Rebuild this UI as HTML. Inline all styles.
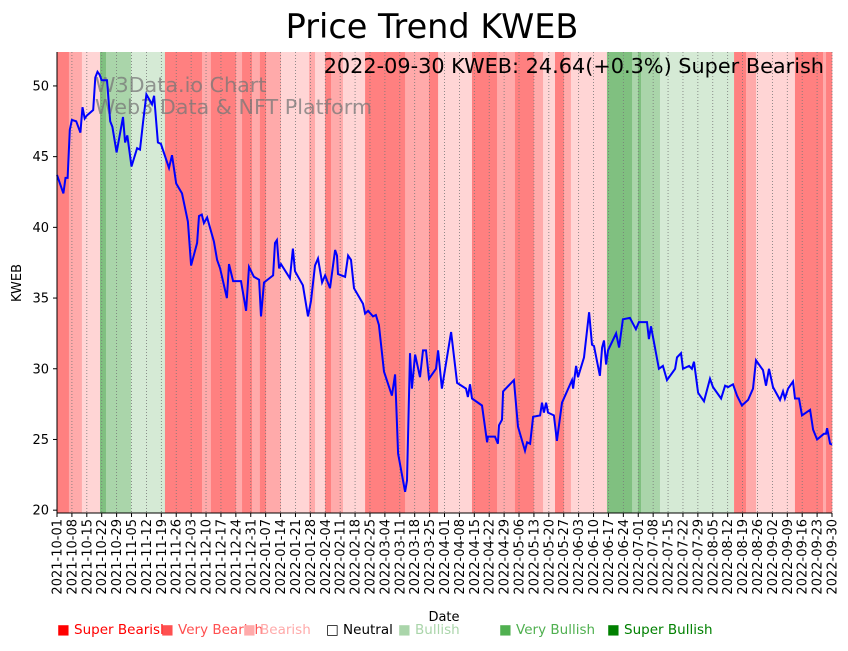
<!DOCTYPE html>
<html><head><meta charset="utf-8"><style>
body{margin:0;background:#fff;width:848px;height:646px;overflow:hidden;font-family:"Liberation Sans","DejaVu Sans",sans-serif}
svg text{font-family:"DejaVu Sans","Liberation Sans",sans-serif}
</style></head><body>
<svg id="chart" width="848" height="646" xmlns="http://www.w3.org/2000/svg">
<text x="432" y="38" font-size="33.5" text-anchor="middle">Price Trend KWEB</text>
<g id="bands"></g>
<g id="grid"></g>
<text x="95" y="92" font-size="20.7" fill="#777" fill-opacity="0.75">W3Data.io Chart</text>
<text x="95" y="114" font-size="20.7" fill="#777" fill-opacity="0.75">Web3 Data &amp; NFT Platform</text>
<path id="line" fill="none" stroke="#0000ff" stroke-width="2"/>
<text x="824" y="73" font-size="20.8" text-anchor="end">2022-09-30 KWEB: 24.64(+0.3%) Super Bearish</text>
<g id="axes"></g>
<text x="444" y="621" font-size="13" text-anchor="middle">Date</text>
<text transform="translate(21,283) rotate(-90)" font-size="13" text-anchor="middle">KWEB</text>
<g font-size="13.5">
<text x="57" y="634" fill="#ff0000">■ Super Bearish</text>
<text x="161" y="634" fill="#ff5050">■ Very Bearish</text>
<text x="243" y="634" fill="#ffaaaa">■ Bearish</text>
<text x="326" y="634" fill="#000">□ Neutral</text>
<text x="398" y="634" fill="#aad5aa">■ Bullish</text>
<text x="499" y="634" fill="#50b050">■ Very Bullish</text>
<text x="607" y="634" fill="#008000">■ Super Bullish</text>
</g>
</svg>
<script>
// days since 2021-10-01
const priceDays=[0,3,4,5,6,7,9,11,12,13,14,17,18,19,20,21,23.5,25,26,28,31,32,33,35,37.6,39,40.4,42,44.6,45.6,47.4,48.8,52.6,54,56,58.7,61.5,63,65.8,66.7,68,69,70.5,73.7,75.2,76.6,79.8,80.8,82.7,86.4,88.8,90.2,92.5,94.9,95.8,97.2,101.5,102.4,103.3,104.3,105.2,109.4,110.8,111.8,115.5,117.9,119.3,121.2,122.6,124.5,125.9,128.2,130.6,131.5,132,135.3,136.7,138.1,139.5,143.7,144.7,146.1,148.4,149.8,151.2,153.6,157.3,158.8,160.2,163.5,164.4,165.8,166.7,168.2,170.5,171.9,173.3,174.7,178,179,180.8,185.1,187.9,192.1,193,194,194.9,199.6,202,202.4,205.7,207.1,207.6,209,209.5,214.6,216.5,219.8,220.8,222.2,223.6,226.9,227.8,228.7,229.7,230.6,233.4,234.8,237.2,241.9,242.4,243.8,244.7,247.5,249.9,251.3,252.2,255,256,256.9,257.9,258.8,262.6,264,265.8,269.1,271.9,273.3,277.1,278,279,282.7,284.6,286.5,290.3,291.2,293.1,294,296.9,298.2,299.2,301.1,303.9,306.7,308.1,311.9,313.8,315.2,317.5,319.4,321.7,324.6,326.9,328.3,331.6,333,334.4,336.3,339.6,341,341.9,343.4,345.7,346.6,348.5,349.9,353.7,355.1,357,360.2,361.2,361.7,363.1,364];
const priceValues=[43.7,42.4,43.5,43.5,46.9,47.6,47.5,46.7,48.5,47.7,47.9,48.3,50.6,51.0,50.8,50.4,50.4,47.5,47.1,45.3,47.8,46.0,46.5,44.3,45.6,45.5,47.4,49.4,48.7,49.3,46.0,45.9,44.2,45.1,43.1,42.4,40.4,37.3,38.9,40.8,40.9,40.3,40.7,39.0,37.7,37.1,35.0,37.4,36.2,36.2,34.1,37.2,36.5,36.3,33.7,36.1,36.6,38.9,39.1,37.1,37.4,36.4,38.5,36.9,35.9,33.7,34.8,37.3,37.8,36.1,36.6,35.7,38.4,38.0,36.7,36.5,38.0,37.7,35.7,34.6,33.9,34.1,33.7,33.8,33.1,29.8,28.1,29.6,24.0,21.3,22.1,31.1,28.6,31.0,29.4,31.3,31.3,29.3,30.0,31.3,28.6,32.6,29.0,28.6,28.0,28.9,27.9,27.4,24.8,25.2,25.2,24.7,26.0,26.4,28.4,29.2,25.9,24.2,24.8,24.7,26.6,26.7,27.6,26.9,27.6,26.9,26.7,24.9,27.6,29.2,28.6,30.2,29.4,30.8,34.0,31.7,31.6,29.5,31.5,32.0,30.3,31.3,32.5,31.5,33.5,33.6,32.8,33.3,33.3,32.1,33.0,30.0,30.2,29.2,30.0,30.8,31.1,30.0,30.2,30.0,30.5,28.3,27.7,29.3,28.7,27.9,28.8,28.7,28.9,28.1,27.4,27.8,28.6,30.6,29.9,28.8,30.0,28.7,27.8,28.4,27.9,28.6,29.1,27.9,27.9,26.7,27.1,25.7,25.0,25.4,25.4,25.8,24.7,24.64];
// signal bands: start day and category (0 super bearish .. 5 super bullish)
const bandStarts=[0,5.6,11.7,20.2,23,34.8,50.7,68.1,72.3,84.1,86.9,91.6,95.3,98.2,105.2,118.4,121.2,125.9,128.7,134.3,144.7,163.5,174.7,179,194.9,206.7,215.1,224,228.3,233.9,238.1,241.4,258.3,270.1,272.9,274.3,283.2,318,323.6,328.3,346.6,359.8,361.2];
const bandCats=[0,1,2,5,4,3,0,1,0,1,0,1,0,1,2,1,2,0,1,2,0,1,0,2,0,1,0,1,2,0,1,2,5,4,5,4,3,0,1,2,0,1,0];
const yTicks=[20,25,30,35,40,45,50];
const startDate=new Date(Date.UTC(2021,9,1));
const totalDays=364;

const NS='http://www.w3.org/2000/svg';
const X0=57,X1=832,Y0=513,Y1=52,VMIN=19.8,VMAX=52.4;
const xs=d=>X0+(X1-X0)*d/totalDays;
const ys=v=>Y0-(Y0-Y1)*(v-VMIN)/(VMAX-VMIN);
const catColors=['#ff8080','#ffaaaa','#ffd5d5','#d5ead5','#aad5aa','#80c080'];
const catNames=['super-bearish','very-bearish','bearish','bullish','very-bullish','super-bullish'];
function mk(tag,attrs,parent){const e=document.createElementNS(NS,tag);for(const k in attrs)e.setAttribute(k,attrs[k]);parent.appendChild(e);return e;}
const bands=document.getElementById('bands');
bandStarts.forEach((s,i)=>{
  const e=i+1<bandStarts.length?bandStarts[i+1]:totalDays;
  const r=mk('rect',{x:xs(s),y:Y1,width:xs(e)-xs(s)+0.3,height:Y0-Y1,fill:catColors[bandCats[i]]},bands);
  
  
});
const grid=document.getElementById('grid'),axes=document.getElementById('axes');
for(let d=0;d<=totalDays;d+=7){
  const x=xs(d);
  const g=mk('line',{x1:x,x2:x,y1:Y1,y2:Y0,stroke:'#777','stroke-width':0.8,'stroke-dasharray':'1,2'},grid);
  
  
  const t=mk('line',{x1:x,x2:x,y1:Y0,y2:Y0+4,stroke:'#000','stroke-width':1},axes);
  
  
  const dt=new Date(startDate.getTime()+d*86400000);
  const lbl=dt.toISOString().slice(0,10);
  const tx=mk('text',{transform:`translate(${x+4.5},${Y0+6}) rotate(-90)`,'font-size':13,'text-anchor':'end'},axes);
  tx.textContent=lbl;
  
  
}
yTicks.forEach(v=>{
  const y=ys(v);
  const t=mk('line',{x1:X0-4,x2:X0,y1:y,y2:y,stroke:'#000'},axes);
  
  
  const tx=mk('text',{x:X0-8,y:y+4.5,'font-size':13,'text-anchor':'end'},axes);
  tx.textContent=v;
  
  
});
const ya=mk('line',{x1:X0,x2:X0,y1:Y1,y2:Y0,stroke:'#000'},axes);


const xa=mk('line',{x1:X0,x2:X1,y1:Y0,y2:Y0,stroke:'#000'},axes);


document.getElementById('line').setAttribute('d',priceDays.map((d,i)=>(i?'L':'M')+xs(d).toFixed(1)+','+ys(priceValues[i]).toFixed(1)).join(''));
</script>
</body></html>
